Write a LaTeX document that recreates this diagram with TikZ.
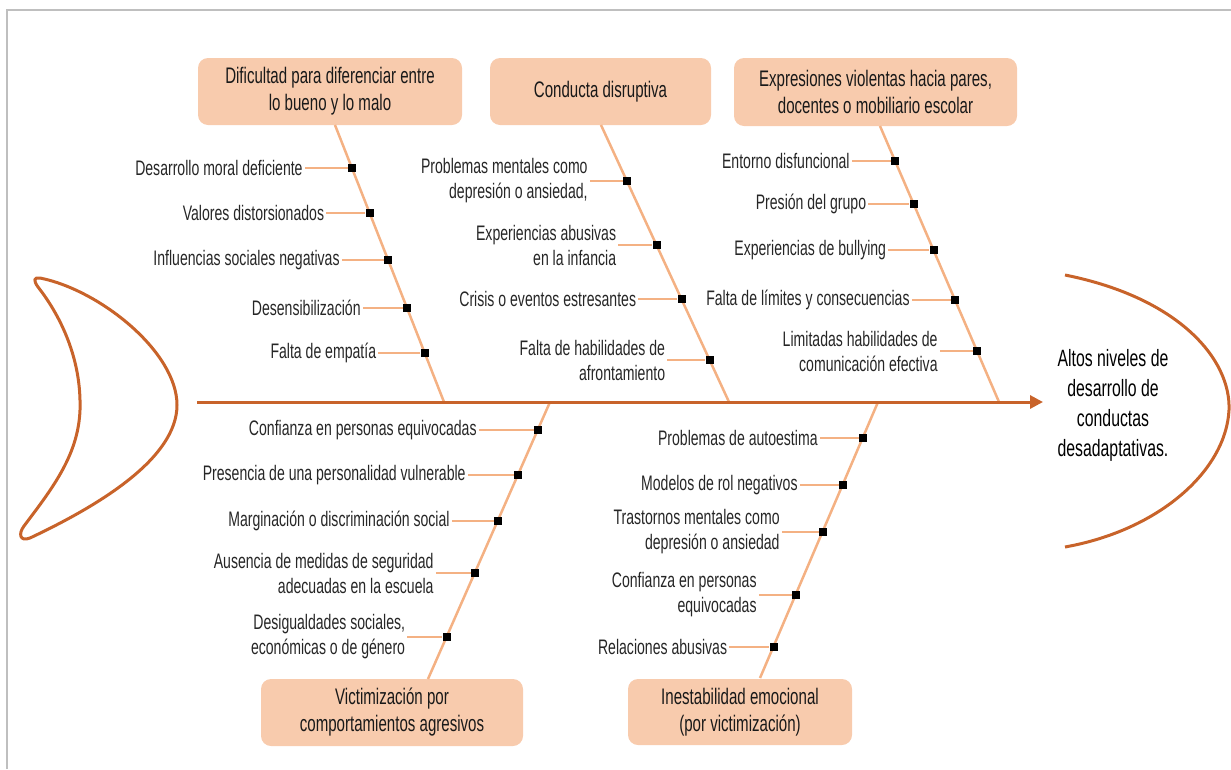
\documentclass[tikz,border=0pt]{standalone}
\usepackage{fontspec}
\setmainfont{Liberation Sans}[FakeStretch=0.67]
\usetikzlibrary{arrows.meta,positioning,calc}

\definecolor{pch}{HTML}{F8CBAD}
\definecolor{bonec}{HTML}{F4B183}
\definecolor{rust}{HTML}{C8632A}

\begin{document}
\begin{tikzpicture}[x=1pt, y=-1pt,
box/.style = {rectangle, rounded corners=10pt, fill=pch, inner sep=0pt, align=center, font=\fontsize{22.5}{27}\selectfont, text=black!90},
lbl/.style = {rectangle, inner sep=2pt, align=right, font=\fontsize{21}{25}\selectfont, text=black!85},
head/.style = {rectangle, align=center, font=\fontsize{23.6}{30}\selectfont, text=black},
sq/.style = {rectangle, fill=black, minimum size=8pt, inner sep=0pt},
bone/.style = {draw=bonec, line width=2.5pt},
twig/.style = {draw=bonec, line width=2.5pt},
spine/.style = {draw=rust, line width=3pt, -{Triangle[length=13pt,width=13pt]}},
curve/.style = {draw=rust, line width=3pt, line join=round},
                    ]
    \useasboundingbox (0,0) rectangle (1231,769);
    \draw[gray!50, line width=1.2pt] (7,769) -- (7,10) -- (1231,10);

    \draw[curve] (40,278) .. controls (100,290) and (177,352) .. (177,405)
        .. controls (177,458) and (100,505) .. (30,538)
        .. controls (20,542) and (18,534) .. (24,526)
        .. controls (55,485) and (82,450) .. (80,400)
        .. controls (79,355) and (60,315) .. (38,287)
        .. controls (33,280) and (34,277) .. (40,278) -- cycle;
    \draw[curve] (1065,275) .. controls (1180,298) and (1231,360) .. (1229,410)
        .. controls (1226,470) and (1160,530) .. (1065,547);

    \node [box, minimum width=264pt, minimum height=67pt] (d1) at (330,91.5) {Dificultad para diferenciar entre\\lo bueno y lo malo};
    \node [box, minimum width=221pt, minimum height=67pt] (d2) at (600.5,91.5) {Conducta disruptiva};
    \node [box, minimum width=283pt, minimum height=68pt] (d3) at (875.5,92) {Expresiones violentas hacia pares,\\docentes o mobiliario escolar};
    \node [box, minimum width=262pt, minimum height=67pt] (d4) at (392,712.5) {Victimización por\\comportamientos agresivos};
    \node [box, minimum width=224pt, minimum height=66pt] (d5) at (740,712) {Inestabilidad emocional\\(por victimización)};
    \node [head] (hd) at (1113,405) {Altos niveles de\\desarrollo de\\conductas\\desadaptativas.};

    \coordinate (t1) at (335,125);   \coordinate (j1) at (444,402);
    \coordinate (t2) at (601,125);   \coordinate (j2) at (729,402);
    \coordinate (t3) at (880,126);   \coordinate (j3) at (999,402);
    \coordinate (t4) at (428,679);   \coordinate (j4) at (550,402);
    \coordinate (t5) at (760,678);   \coordinate (j5) at (878,402);
    \coordinate (sp0) at (197,402);  \coordinate (sp1) at (1043,402);

    \path[bone] (t1) edge (j1)
                (t2) edge (j2)
                (t3) edge (j3)
                (t4) edge (j4)
                (t5) edge (j5)
                ;
    \draw[spine] (sp0) -- (sp1);

    \node [sq] (s11) at (352,168) {};
    \node [sq] (s12) at (369.5,213) {};
    \node [sq] (s13) at (388,260) {};
    \node [sq] (s14) at (407,308) {};
    \node [sq] (s15) at (424.5,353) {};
    \node [sq] (s21) at (627,181) {};
    \node [sq] (s22) at (656.5,245) {};
    \node [sq] (s23) at (681.5,299) {};
    \node [sq] (s24) at (709.5,360) {};
    \node [sq] (s31) at (895,161) {};
    \node [sq] (s32) at (913.5,204) {};
    \node [sq] (s33) at (933.5,250) {};
    \node [sq] (s34) at (955,300) {};
    \node [sq] (s35) at (977,351) {};
    \node [sq] (s41) at (538,430) {};
    \node [sq] (s42) at (518,475) {};
    \node [sq] (s43) at (498,521) {};
    \node [sq] (s44) at (475,573) {};
    \node [sq] (s45) at (446.5,637) {};
    \node [sq] (s51) at (863,438) {};
    \node [sq] (s52) at (843,485) {};
    \node [sq] (s53) at (823,532) {};
    \node [sq] (s54) at (796,595) {};
    \node [sq] (s55) at (773.5,647) {};

    \node [lbl, left=43pt of s11] (l11) {Desarrollo moral deficiente};
    \node [lbl, left=39pt of s12] (l12) {Valores distorsionados};
    \node [lbl, left=42pt of s13] (l13) {Influencias sociales negativas};
    \node [lbl, left=40pt of s14] (l14) {Desensibilización};
    \node [lbl, left=42pt of s15] (l15) {Falta de empatía};
    \node [lbl, left=33pt of s21] (l21) {Problemas mentales como\\depresión o ansiedad,};
    \node [lbl, left=34pt of s22] (l22) {Experiencias abusivas\\en la infancia};
    \node [lbl, left=39pt of s23] (l23) {Crisis o eventos estresantes};
    \node [lbl, left=38pt of s24] (l24) {Falta de habilidades de\\afrontamiento};
    \node [lbl, left=39pt of s31] (l31) {Entorno disfuncional};
    \node [lbl, left=41pt of s32] (l32) {Presión del grupo};
    \node [lbl, left=41pt of s33] (l33) {Experiencias de bullying};
    \node [lbl, left=39pt of s34] (l34) {Falta de límites y consecuencias};
    \node [lbl, left=33pt of s35] (l35) {Limitadas habilidades de\\comunicación efectiva};
    \node [lbl, left=55pt of s41] (l41) {Confianza en personas equivocadas};
    \node [lbl, left=46pt of s42] (l42) {Presencia de una personalidad vulnerable};
    \node [lbl, left=42pt of s43] (l43) {Marginación o discriminación social};
    \node [lbl, left=35pt of s44] (l44) {Ausencia de medidas de seguridad\\adecuadas en la escuela};
    \node [lbl, left=35pt of s45] (l45) {Desigualdades sociales,\\económicas o de género};
    \node [lbl, left=39pt of s51] (l51) {Problemas de autoestima};
    \node [lbl, left=39pt of s52] (l52) {Modelos de rol negativos};
    \node [lbl, left=37pt of s53] (l53) {Trastornos mentales como\\depresión o ansiedad};
    \node [lbl, left=33pt of s54] (l54) {Confianza en personas\\equivocadas};
    \node [lbl, left=40pt of s55] (l55) {Relaciones abusivas};

    \path[twig] (l11) edge (s11)  (l12) edge (s12)  (l13) edge (s13)  (l14) edge (s14)  (l15) edge (s15)
                (l21) edge (s21)  (l22) edge (s22)  (l23) edge (s23)  (l24) edge (s24)
                (l31) edge (s31)  (l32) edge (s32)  (l33) edge (s33)  (l34) edge (s34)  (l35) edge (s35)
                (l41) edge (s41)  (l42) edge (s42)  (l43) edge (s43)  (l44) edge (s44)  (l45) edge (s45)
                (l51) edge (s51)  (l52) edge (s52)  (l53) edge (s53)  (l54) edge (s54)  (l55) edge (s55)
                ;
\end{tikzpicture}
\end{document}
